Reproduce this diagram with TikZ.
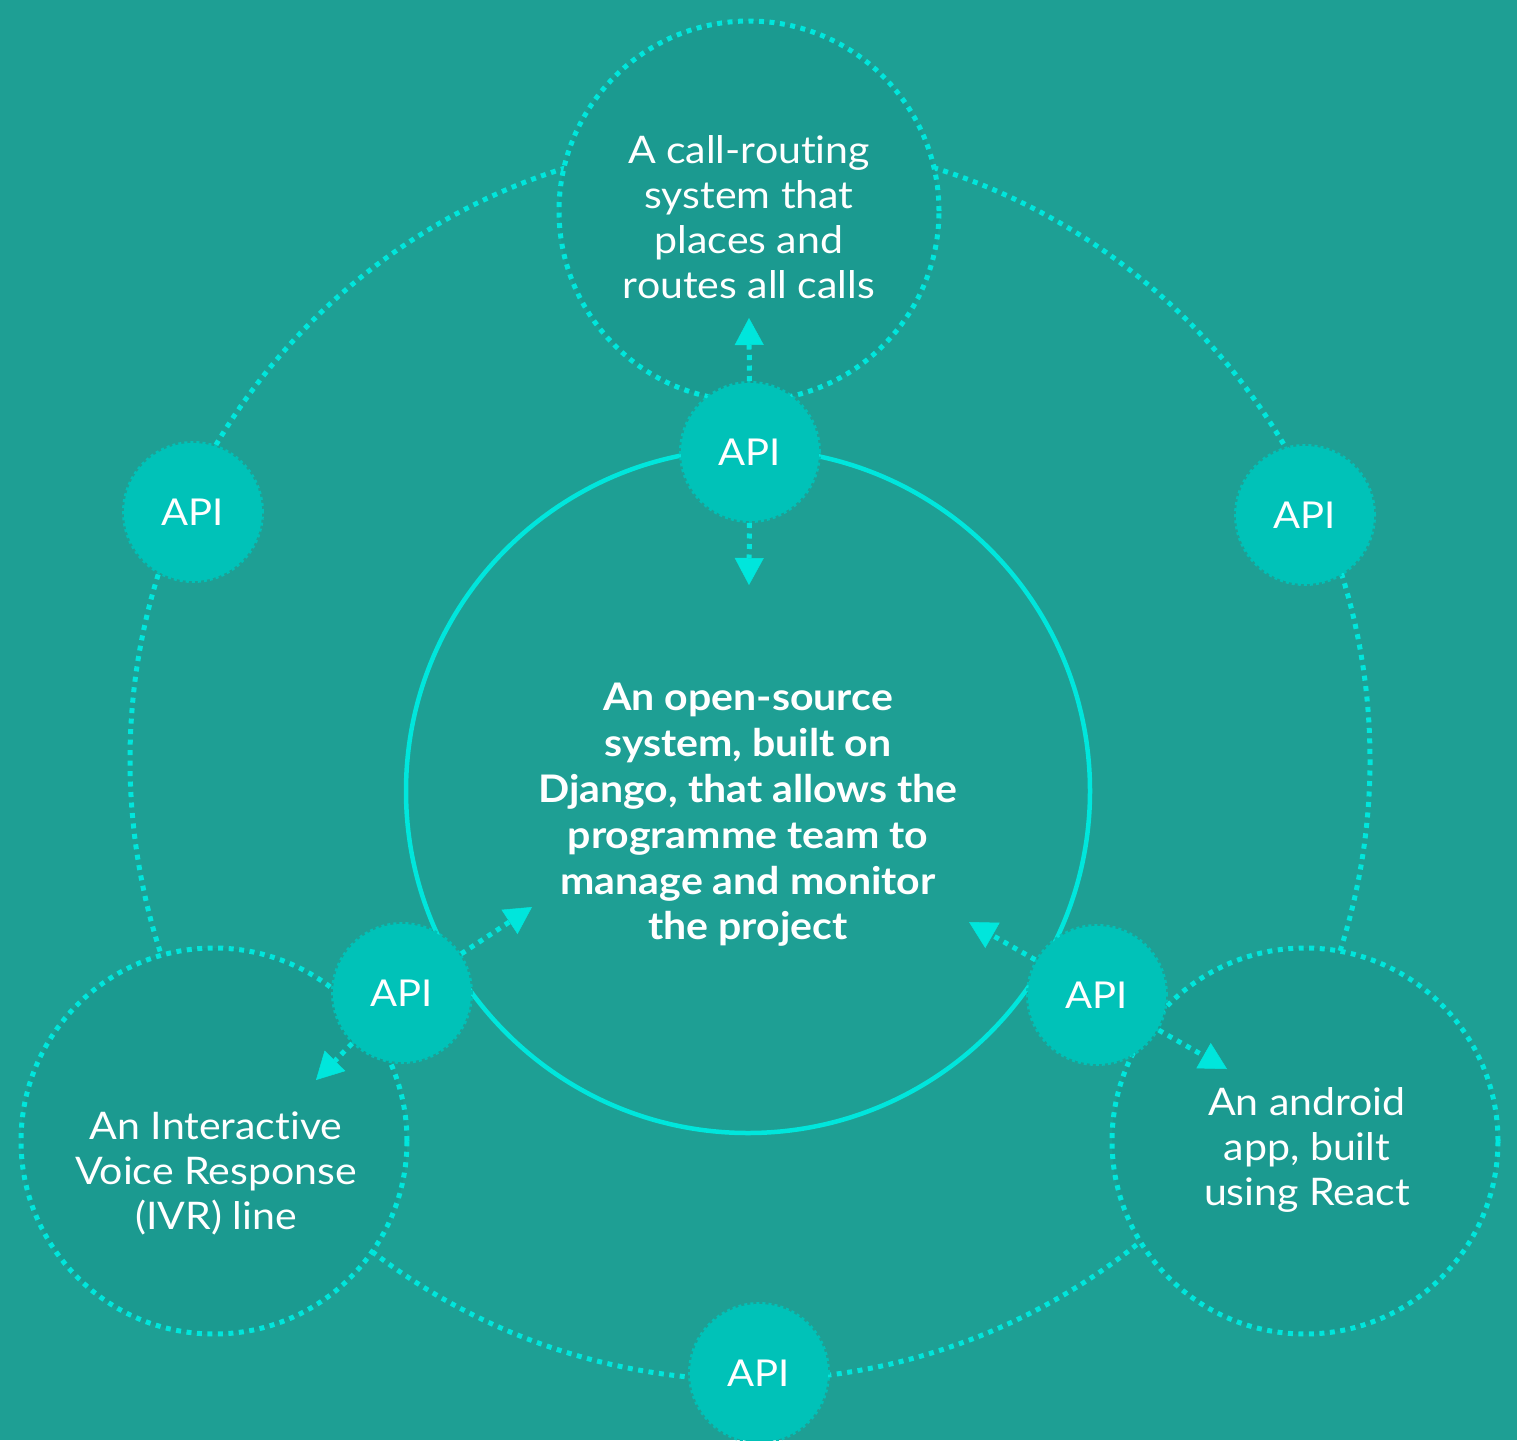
\documentclass[tikz,border=0pt]{standalone}
\usepackage{fontspec}
\setmainfont{Lato}[FakeStretch=1.08, Ligatures=NoCommon]
\usetikzlibrary{arrows.meta}
\definecolor{bg}{HTML}{1E9F94}
\definecolor{bgin}{HTML}{1B9A90}
\definecolor{cyanl}{HTML}{00E6DC}
\definecolor{apif}{HTML}{00C2B8}
\begin{document}
\begin{tikzpicture}[x=1pt,y=-1pt,
  dotl/.style={draw=cyanl, line width=5pt, dash pattern=on 5pt off 5.5pt},
  bubble/.style={circle, dotl, fill=bgin, minimum size=#1, inner sep=0pt},
  api/.style={circle, fill=apif, draw=apif, line width=4pt, dash pattern=on 3pt off 3pt,
    minimum size=138pt, inner sep=0pt, text=white, font=\fontsize{37}{40}\selectfont},
  arr/.style={dotl, -{Triangle[length=27pt,width=29pt,line width=0.5pt]}},
  lbl/.style={text=white, align=center, font=\fontsize{38}{45}\selectfont},
  boldlbl/.style={lbl, font=\bfseries\fontsize{38}{45.8}\selectfont}
]
\fill[bg] (0,0) rectangle (1517,1440);
\useasboundingbox (0,0) rectangle (1517,1440);

% outer dotted ring
\draw[dotl] (750,760) circle[radius=620];

% satellite bubbles
\node[bubble=380pt] (top) at (749,211) {};
\node[bubble=386pt] (ivr) at (214,1141) {};
\node[bubble=386pt] (app) at (1305,1141) {};

% central system circle
\node[circle, draw=cyanl, line width=4.5pt, minimum size=684pt, inner sep=0pt] (core) at (748,791) {};

% texts
\node[lbl] (toptext) at (749,217) {A call-routing\\system that\\places and\\routes all calls};
\node[lbl] (ivrtext) at (216,1173) {An Interactive\\Voice Response\\(IVR) line};
\node[lbl] (apptext) at (1307,1150) {An android\\app, built\\using React};
\node[boldlbl] (coretext) at (748,815) {An open-source\\system, built on\\Django, that allows the\\programme team to\\manage and monitor\\the project};

% arrow tip coordinates
\coordinate (tTU) at (749,318);
\coordinate (tTD) at (749,585);
\coordinate (tLU) at (532,907);
\coordinate (tLD) at (316,1080);
\coordinate (tRU) at (969,922);
\coordinate (tRD) at (1227,1069);

% API nodes
\node[api] (apiT) at (750,452) {API};
\node[api] (apiNW) at (193,512) {API};
\node[api] (apiNE) at (1305,515) {API};
\node[api] (apiL) at (402,993) {API};
\node[api] (apiR) at (1097,995) {API};
\node[api] (apiB) at (759,1373) {API};

% arrows
\draw[arr] (apiT) -- (tTU);
\draw[arr] (apiT) -- (tTD);
\draw[arr] (apiL) -- (tLU);
\draw[arr] (apiL) -- (tLD);
\draw[arr] (apiR) -- (tRU);
\draw[arr] (apiR) -- (tRD);
\end{tikzpicture}
\end{document}
